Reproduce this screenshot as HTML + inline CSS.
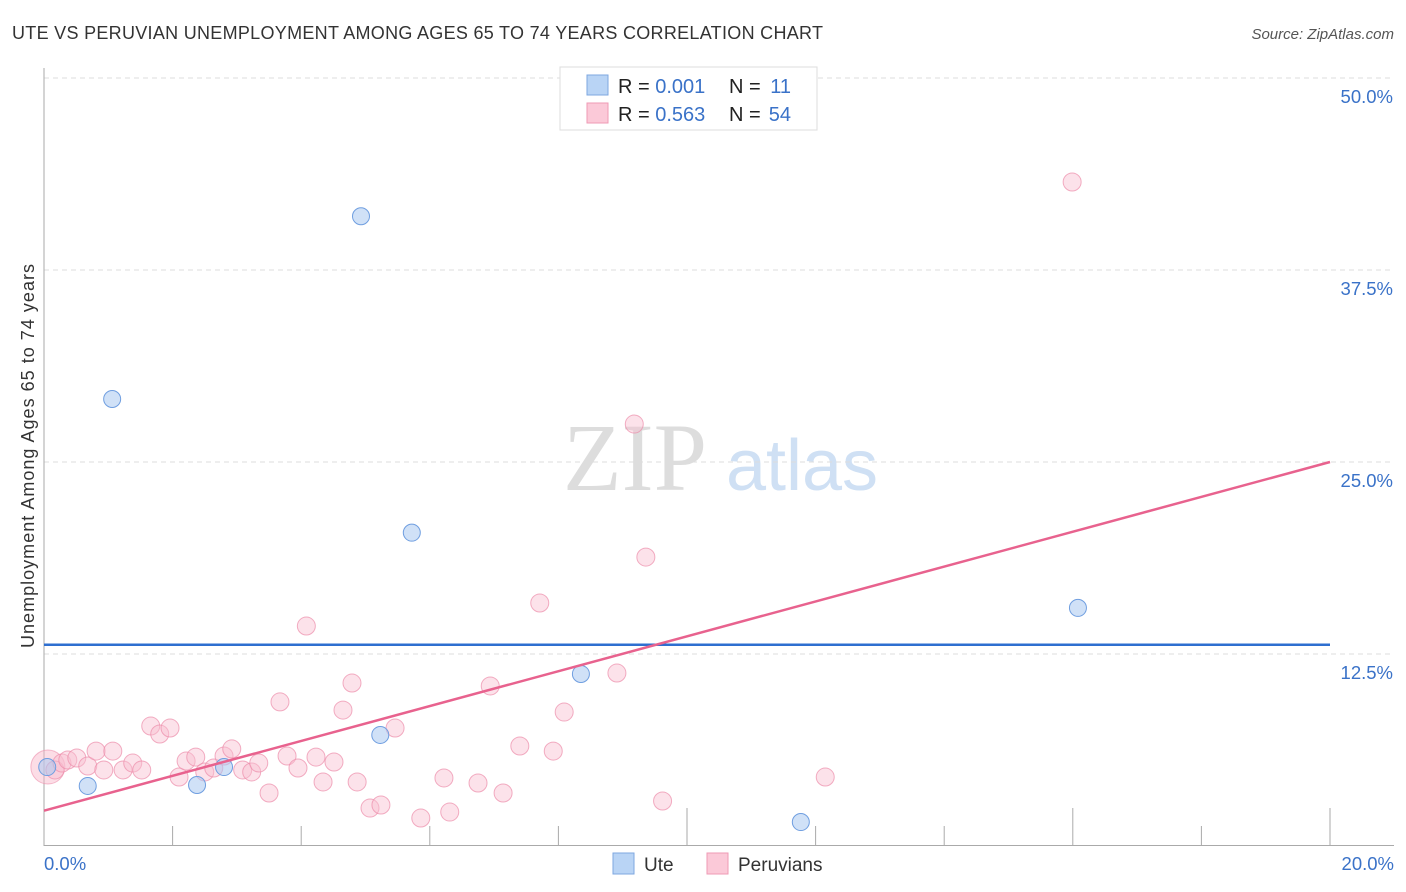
<!DOCTYPE html>
<html><head><meta charset="utf-8"><style>
body{margin:0;background:#fff;font-family:"Liberation Sans",sans-serif}
svg{display:block}
</style></head><body>
<svg id="chart" width="1406" height="892" xmlns="http://www.w3.org/2000/svg">
<text x="12" y="39" font-size="18" fill="#333" textLength="811">UTE VS PERUVIAN UNEMPLOYMENT AMONG AGES 65 TO 74 YEARS CORRELATION CHART</text>
<text x="1394" y="39" font-size="15" fill="#555" font-style="italic" text-anchor="end">Source: ZipAtlas.com</text>
<g>
<text x="635" y="490" font-size="96" fill="#ddd" font-family="Liberation Serif,serif" text-anchor="middle">ZIP</text>
<text x="802" y="490" font-size="72" fill="#cfe0f4" text-anchor="middle">atlas</text>
</g>
<g id="grid"></g>
<g id="axes"></g>
<g id="marks"></g>
<text transform="translate(34,456) rotate(-90)" font-size="18" fill="#333" text-anchor="middle" textLength="384">Unemployment Among Ages 65 to 74 years</text>
<g>
<rect x="560" y="67" width="257" height="63" fill="#fff" stroke="#ddd"/>
<rect x="587" y="75" width="21" height="20" fill="#b9d4f5" stroke="#7ea7e0"/>
<rect x="587" y="103" width="21" height="20" fill="#fbc9d8" stroke="#ef9ab5"/>
<text x="618" y="93" font-size="20" fill="#222">R = <tspan fill="#3a72c8">0.001</tspan></text>
<text x="729" y="93" font-size="20" fill="#222">N =</text>
<text x="791" y="93" font-size="20" fill="#3a72c8" text-anchor="end">11</text>
<text x="618" y="121" font-size="20" fill="#222">R = <tspan fill="#3a72c8">0.563</tspan></text>
<text x="729" y="121" font-size="20" fill="#222">N =</text>
<text x="791" y="121" font-size="20" fill="#3a72c8" text-anchor="end">54</text>
</g>
<g>
<rect x="613" y="853" width="21" height="21" fill="#b9d4f5" stroke="#7ea7e0"/>
<text x="644" y="871" font-size="19" fill="#333">Ute</text>
<rect x="707" y="853" width="21" height="21" fill="#fbc9d8" stroke="#ef9ab5"/>
<text x="738" y="871" font-size="19" fill="#333">Peruvians</text>
</g>
</svg>
<script>
const yTicks=[12.5,25,37.5,50];
const yTickLabels=["12.5%","25.0%","37.5%","50.0%"];
const xTickVals=[0,2,4,6,8,10,12,14,16,18,20];
const uteX=[0.05,0.68,1.06,2.38,2.80,4.93,5.23,5.72,8.35,11.77,16.08];
const uteY=[5.14,3.91,29.1,3.97,5.14,41.0,7.23,20.4,11.2,1.56,15.5];
const peruX=[0.17,0.28,0.37,0.51,0.68,0.81,1.07,0.93,1.23,1.38,1.52,1.66,1.80,1.96,2.10,2.21,2.36,2.50,2.64,2.80,2.92,3.09,3.23,3.34,3.50,3.67,3.78,3.95,4.08,4.23,4.34,4.51,4.65,4.79,4.87,5.07,5.24,5.46,5.86,6.22,6.31,6.75,6.94,7.14,7.40,7.71,8.09,7.92,8.91,9.18,9.36,9.62,12.15,15.99];
const peruY=[4.95,5.40,5.60,5.73,5.21,6.18,6.18,4.95,4.95,5.40,4.95,7.81,7.29,7.68,4.49,5.53,5.79,4.82,5.08,5.86,6.32,4.95,4.82,5.40,3.45,9.38,5.86,5.08,14.32,5.79,4.17,5.47,8.85,10.61,4.17,2.47,2.67,7.68,1.82,4.43,2.21,4.10,10.42,3.45,6.51,15.82,8.72,6.18,11.26,27.47,18.81,2.93,4.49,43.23];
const bigPoint=[0.06,5.14];
const uteLine=[13.1,13.1];
const peruLine=[2.3,25.0];
const X0=44,X1=1330,Y0=846,PPY=192/12.5;
const sx=v=>X0+(X1-X0)*v/20, sy=v=>Y0-v*PPY;
const NS="http://www.w3.org/2000/svg";
function mk(p,t,a){const e=document.createElementNS(NS,t);for(const k in a)e.setAttribute(k,a[k]);p.appendChild(e);return e;}
const grid=document.getElementById('grid'),axes=document.getElementById('axes'),marks=document.getElementById('marks');
yTicks.forEach((v,i)=>{
 const l=mk(grid,'line',{x1:X0,x2:1394,y1:sy(v),y2:sy(v),stroke:'#ddd','stroke-dasharray':'5,4'});
 
 
 const t=mk(axes,'text',{x:1393,y:sy(v)+25,'font-size':18.5,fill:'#3a72c8','text-anchor':'end'});
 t.textContent=yTickLabels[i];
 
 
});
const ya=mk(axes,'line',{x1:X0,x2:X0,y1:68,y2:846,stroke:'#aaa'});


const xa=mk(axes,'line',{x1:X0,x2:1394,y1:845.5,y2:845.5,stroke:'#aaa'});


xTickVals.forEach((v,i)=>{
 const tall=(i===5||i===8||i===10);
 const t=mk(axes,'line',{x1:sx(v),x2:sx(v),y1:tall?808:826,y2:846,stroke:'#aaa'});
 
 
});
const xl0=mk(axes,'text',{x:44,y:870,'font-size':18.5,fill:'#3a72c8'});xl0.textContent='0.0%';


const xl1=mk(axes,'text',{x:1394,y:870,'font-size':18.5,fill:'#3a72c8','text-anchor':'end'});xl1.textContent='20.0%';


const bp=mk(marks,'circle',{cx:sx(bigPoint[0]),cy:sy(bigPoint[1]),r:17,fill:'rgba(248,180,200,0.45)',stroke:'rgba(236,140,170,0.6)'});


peruX.forEach((x,i)=>{
 const c=mk(marks,'circle',{cx:sx(x),cy:sy(peruY[i]),r:9,fill:'rgba(248,190,208,0.45)',stroke:'rgba(236,140,170,0.7)'});
 
 
});
uteX.forEach((x,i)=>{
 const c=mk(marks,'circle',{cx:sx(x),cy:sy(uteY[i]),r:8.5,fill:'rgba(170,200,240,0.55)',stroke:'#6f9ee0'});
 
 
});
const ul=mk(marks,'line',{x1:sx(0),x2:sx(20),y1:sy(uteLine[0]),y2:sy(uteLine[1]),stroke:'#2e6fd0','stroke-width':2.5});


const pl=mk(marks,'line',{x1:sx(0),x2:sx(20),y1:sy(peruLine[0]),y2:sy(peruLine[1]),stroke:'#e8628e','stroke-width':2.5});


</script>
</body></html>
